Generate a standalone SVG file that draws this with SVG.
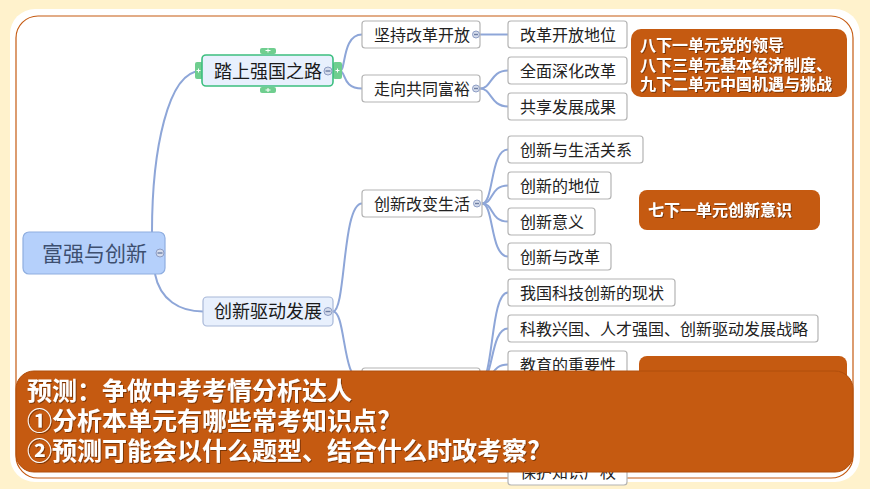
<svg xmlns="http://www.w3.org/2000/svg" width="870" height="489" viewBox="0 0 870 489">
<defs>
<style>
text{font-family:"Noto Sans CJK SC","Microsoft YaHei",sans-serif;}
.lnk{fill:none;stroke:#8ea6d8;stroke-width:2;}
.n2{fill:#fff;stroke:#b4b4b4;stroke-width:1.2;}
.t2{font-size:16px;fill:#222;}
.t1{font-size:18px;fill:#1a1a1a;}
.note{fill:#c55a11;}
.nt{font-size:16px;font-weight:bold;fill:#fff;}
.bt{font-size:25px;font-weight:bold;fill:#fff;}
.cc{fill:#d5dcec;stroke:#8d9dc4;stroke-width:1;}
.cm{stroke:#6f7fa5;stroke-width:1.4;}
.gh{fill:#6fce8f;}
.gp{stroke:#fff;stroke-width:1;}
</style>
<filter id="sh" x="-5%" y="-20%" width="110%" height="140%">
<feDropShadow dx="1" dy="1" stdDeviation="0.6" flood-color="#4a1a00" flood-opacity="0.6"/>
</filter>
</defs>
<rect x="0" y="0" width="870" height="489" fill="#fff2cc"/>
<rect x="10" y="9" width="850" height="473" rx="25" fill="#fff"/>
<rect x="16" y="16" width="837" height="462" rx="22" fill="none" stroke="#c55a11" stroke-width="1.2"/>

<g id="connectors">
<path class="lnk" d="M152,232 C152,150 168,72 200,71"/>
<path class="lnk" d="M155,274 C160,300 180,311.5 203,311.5"/>
<path class="lnk" d="M340,71 C346,71 342,34.5 362,34.5"/>
<path class="lnk" d="M340,71 C346,71 342,88.5 362,88.5"/>
<path class="lnk" d="M480,34.5 L508,34.5"/>
<path class="lnk" d="M480,88.5 C492,88.5 490,70.5 508,70.5"/>
<path class="lnk" d="M480,88.5 C492,88.5 490,106.5 508,106.5"/>
<path class="lnk" d="M333,311.5 C346,311.5 342,203.5 362,203.5"/>
<path class="lnk" d="M333,311.5 C346,311.5 342,381.5 362,381.5"/>
<path class="lnk" d="M482,203.5 C494,203.5 490,149.5 508,149.5"/>
<path class="lnk" d="M482,203.5 C494,203.5 490,185.5 508,185.5"/>
<path class="lnk" d="M482,203.5 C494,203.5 490,221.5 508,221.5"/>
<path class="lnk" d="M482,203.5 C494,203.5 490,256.5 508,256.5"/>
<path class="lnk" d="M480,381.5 C494,381.5 490,292.5 508,292.5"/>
<path class="lnk" d="M480,381.5 C494,381.5 490,328.5 508,328.5"/>
<path class="lnk" d="M480,381.5 C494,381.5 490,364.5 508,364.5"/>
<path class="lnk" d="M480,381.5 C494,381.5 490,471.5 508,471.5"/>
</g>

<g id="root">
<rect x="23" y="232" width="142" height="42" rx="6" fill="#b5d0fb" stroke="#8faee0" stroke-width="1.2"/>
<text x="42" y="261" font-size="21" fill="#3d4f70">富强与创新</text>
<circle class="cc" cx="160" cy="253" r="4"/><line class="cm" x1="157.5" y1="253" x2="162.5" y2="253"/>
</g>

<g id="b1">
<rect class="gh" x="260" y="48" width="16" height="6" rx="2"/><line class="gp" x1="265.5" y1="50.5" x2="270.5" y2="50.5"/><line class="gp" x1="268" y1="48.5" x2="268" y2="52.5"/>
<rect class="gh" x="260" y="87" width="16" height="6" rx="2"/><line class="gp" x1="265.5" y1="90" x2="270.5" y2="90"/><line class="gp" x1="268" y1="88" x2="268" y2="92"/>
<rect class="gh" x="195" y="62" width="8" height="17" rx="2"/><line class="gp" x1="196.5" y1="70.5" x2="200.5" y2="70.5"/><line class="gp" x1="198.5" y1="68.5" x2="198.5" y2="72.5"/>
<rect class="gh" x="333" y="62" width="9" height="17" rx="2"/><line class="gp" x1="335.5" y1="70.5" x2="339.5" y2="70.5"/><line class="gp" x1="337.5" y1="68.5" x2="337.5" y2="72.5"/>
<rect x="202" y="55" width="131" height="31" rx="4" fill="#e8f0fd" stroke="#3cbf7f" stroke-width="1.6"/>
<text class="t1" x="214" y="78">踏上强国之路</text>
<circle class="cc" cx="328" cy="71" r="4"/><line class="cm" x1="325.5" y1="71" x2="330.5" y2="71"/>
</g>

<g id="b2">
<rect x="203" y="297" width="130" height="29" rx="4" fill="#e8f0fd" stroke="#a8b8d8" stroke-width="1.2"/>
<text class="t1" x="214" y="318">创新驱动发展</text>
<circle class="cc" cx="328" cy="311.5" r="4"/><line class="cm" x1="325.5" y1="311.5" x2="330.5" y2="311.5"/>
</g>

<g id="n-jcgg"><rect class="n2" x="362" y="21" width="118" height="27" rx="3"/><text class="t2" x="374" y="40.5">坚持改革开放</text>
<circle class="cc" cx="476" cy="34.5" r="3.5"/><line class="cm" x1="474" y1="34.5" x2="478" y2="34.5"/></g>
<g id="n-zxgt"><rect class="n2" x="362" y="75" width="118" height="27" rx="3"/><text class="t2" x="374" y="94.5">走向共同富裕</text>
<circle class="cc" cx="476" cy="88.5" r="3.5"/><line class="cm" x1="474" y1="88.5" x2="478" y2="88.5"/></g>
<g id="n-ggdw"><rect class="n2" x="508" y="21" width="119" height="27" rx="3"/><text class="t2" x="520" y="40.5">改革开放地位</text></g>
<g id="n-qmsh"><rect class="n2" x="508" y="57" width="119" height="27" rx="3"/><text class="t2" x="520" y="76.5">全面深化改革</text></g>
<g id="n-gxfz"><rect class="n2" x="508" y="93" width="119" height="27" rx="3"/><text class="t2" x="520" y="112.5">共享发展成果</text></g>

<g id="n-cxgb"><rect class="n2" x="362" y="190" width="120" height="27" rx="3"/><text class="t2" x="374" y="209.5">创新改变生活</text>
<circle class="cc" cx="477" cy="203.5" r="3.5"/><line class="cm" x1="475" y1="203.5" x2="479" y2="203.5"/></g>
<g id="n-cxsh"><rect class="n2" x="508" y="136" width="135" height="27" rx="3"/><text class="t2" x="520" y="155.5">创新与生活关系</text></g>
<g id="n-cxdw"><rect class="n2" x="508" y="172" width="103" height="27" rx="3"/><text class="t2" x="520" y="191.5">创新的地位</text></g>
<g id="n-cxyy"><rect class="n2" x="508" y="208" width="87" height="27" rx="3"/><text class="t2" x="520" y="227.5">创新意义</text></g>
<g id="n-cxgg"><rect class="n2" x="508" y="243" width="103" height="27" rx="3"/><text class="t2" x="520" y="262.5">创新与改革</text></g>

<g id="n-hidden"><rect class="n2" x="362" y="368" width="118" height="27" rx="3"/></g>
<g id="n-kjxz"><rect class="n2" x="508" y="279" width="167" height="27" rx="3"/><text class="t2" x="520" y="298.5">我国科技创新的现状</text></g>
<g id="n-kjxg"><rect class="n2" x="508" y="315" width="310" height="27" rx="3"/><text class="t2" x="520" y="334.5">科教兴国、人才强国、创新驱动发展战略</text></g>
<g id="n-jyzy"><rect class="n2" x="508" y="351" width="119" height="27" rx="3"/><text class="t2" x="520" y="370.5">教育的重要性</text></g>
<g id="n-bhzs"><rect class="n2" x="508" y="458" width="119" height="27" rx="3"/><text class="t2" x="520" y="478">保护知识产权</text></g>

<g id="note1"><rect class="note" x="631" y="29" width="216" height="68" rx="10"/>
<text class="nt" filter="url(#sh)"><tspan x="640" y="51">八下一单元党的领导</tspan><tspan x="640" y="71">八下三单元基本经济制度、</tspan><tspan x="640" y="90">九下二单元中国机遇与挑战</tspan></text></g>
<g id="note2"><rect class="note" x="639" y="190" width="181" height="40" rx="8"/>
<text class="nt" x="648" y="216" filter="url(#sh)">七下一单元创新意识</text></g>
<g id="note3"><rect class="note" x="639" y="356" width="208" height="40" rx="8"/></g>

<g id="banner">
<rect x="16" y="371" width="837" height="101" rx="18" fill="#c55a11" stroke="#b04e0c" stroke-width="1"/>
<text class="bt" filter="url(#sh)"><tspan x="27" y="400">预测：争做中考考情分析达人</tspan><tspan x="27" y="430">①分析本单元有哪些常考知识点?</tspan><tspan x="27" y="460">②预测可能会以什么题型、结合什么时政考察?</tspan></text>
</g>
</svg>
